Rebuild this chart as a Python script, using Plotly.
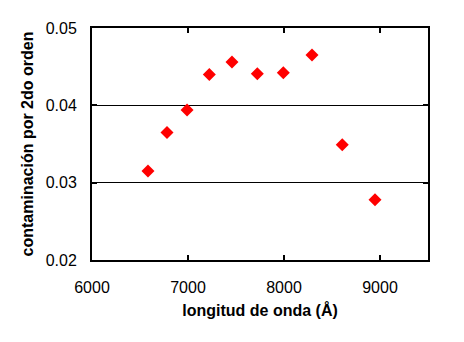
import plotly.graph_objects as go

wavelength = [6583, 6781, 6990, 7222, 7458, 7722, 7993, 8292, 8607, 8948]
contamination = [0.0315, 0.0365, 0.0394, 0.0440, 0.0456, 0.0441, 0.0442, 0.0465, 0.0349, 0.0278]
x_ticks = [6000, 7000, 8000, 9000]
y_ticks = [0.02, 0.03, 0.04, 0.05]
y_tick_text = ["0.02", "0.03", "0.04", "0.05"]

fig = go.Figure(go.Scatter(
    x=wavelength, y=contamination, mode="markers",
    marker=dict(symbol="diamond", size=10, color="#ff0000", line=dict(width=0)),
))

font = "Arial, 'Liberation Sans', sans-serif"
fig.update_layout(
    width=464, height=342,
    margin=dict(l=92, r=36, t=28, b=82),
    paper_bgcolor="white", plot_bgcolor="white",
    showlegend=False,
    font=dict(family=font, size=16, color="black"),
)
fig.update_xaxes(
    range=[6000, 9500], tickvals=x_ticks,
    showline=True, linewidth=2, linecolor="black", mirror="ticks",
    ticks="inside", ticklen=5, tickwidth=2, tickcolor="black",
    showgrid=False, zeroline=False,
    ticklabelstandoff=12,
    title=dict(text="<b>longitud de onda (Å)</b>", font=dict(size=16), standoff=10),
)
fig.update_yaxes(
    range=[0.02, 0.05], tickvals=y_ticks, ticktext=y_tick_text,
    showline=True, linewidth=2, linecolor="black", mirror="ticks",
    ticks="inside", ticklen=5, tickwidth=2, tickcolor="black",
    showgrid=True, gridcolor="black", gridwidth=1, zeroline=False,
    ticklabelstandoff=10,
    title=dict(text="<b>contaminación por 2do orden</b>", font=dict(size=16), standoff=8),
)

fig.write_html("out.html")
